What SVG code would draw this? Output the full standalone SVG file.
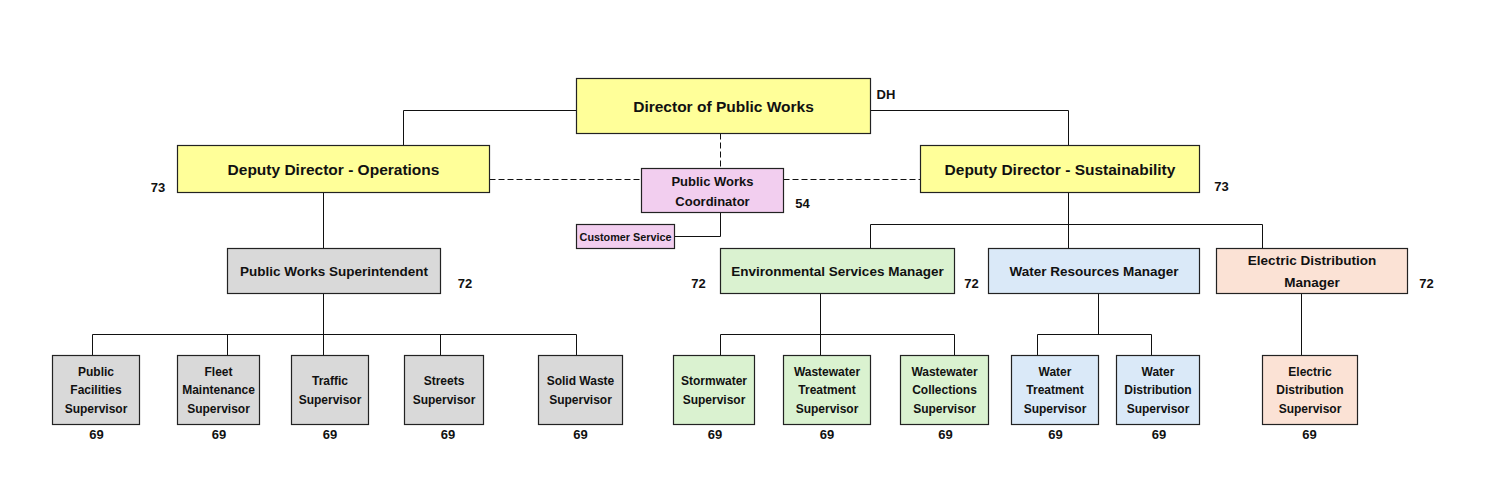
<svg xmlns="http://www.w3.org/2000/svg" width="1490" height="495" viewBox="0 0 1490 495">
<style>
text{font-family:"Liberation Sans",Arial,sans-serif;font-weight:bold;fill:#111;text-anchor:middle;dominant-baseline:central}
.box{stroke:#222;stroke-width:1.2}
.yel{fill:#FFFF99}.pink{fill:#F2CEEF}.gray{fill:#D9D9D9}.grn{fill:#DAF2D0}.blu{fill:#DAE9F8}.pch{fill:#FBE2D5}
.t1{font-size:15.5px}.t2{font-size:13.5px}.t3{font-size:12px}.t4{font-size:10.8px}.num{font-size:13px}
.ln{fill:none;stroke:#111;stroke-width:1}.ds{stroke-dasharray:6,3}
</style>
<rect width="1490" height="495" fill="#fff"/>
<g id="connectors">
<path class="ln" d="M576.5 110.5H403.5V145.5"/>
<path class="ln" d="M870.5 110.5H1068.5V145.5"/>
<path class="ln ds" d="M720.5 133.5V168.5"/>
<path class="ln ds" d="M489.5 179.5H641.5"/>
<path class="ln ds" d="M783.5 179.5H920.5"/>
<path class="ln" d="M720.5 212.5V236.5H674.5"/>
<path class="ln" d="M323.5 192.5V248.5"/>
<path class="ln" d="M323.5 293.5V355.5"/>
<path class="ln" d="M92.5 355.5V334.5H576.5V355.5M227.5 334.5V355.5M440.5 334.5V355.5"/>
<path class="ln" d="M1068.5 192.5V248.5"/>
<path class="ln" d="M870.5 248.5V224.5H1262.5V248.5"/>
<path class="ln" d="M820.5 293.5V355.5"/>
<path class="ln" d="M720.5 355.5V334.5H954.5V355.5"/>
<path class="ln" d="M1098.5 293.5V334.5"/>
<path class="ln" d="M1037.5 355.5V334.5H1151.5V355.5"/>
<path class="ln" d="M1301.5 293.5V355.5"/>
</g>
<g id="director"><rect class="box yel" x="576.5" y="78.5" width="294" height="55"/><text class="t1" x="723.5" y="106">Director of Public Works</text><text class="num" x="886" y="94">DH</text></g>
<g id="deputy-ops"><rect class="box yel" x="177.5" y="145.5" width="312" height="47"/><text class="t1" x="333.5" y="169.5">Deputy Director - Operations</text><text class="num" x="158" y="187">73</text></g>
<g id="deputy-sust"><rect class="box yel" x="920.5" y="145.5" width="279" height="47"/><text class="t1" x="1060" y="169.5">Deputy Director - Sustainability</text><text class="num" x="1221.5" y="186.5">73</text></g>
<g id="coordinator"><rect class="box pink" x="641.5" y="168.5" width="142" height="44"/><text class="t3" x="712.5" y="181.5" style="font-size:13px">Public Works</text><text class="t3" x="712.5" y="201" style="font-size:13px">Coordinator</text><text class="num" x="802.5" y="203">54</text></g>
<g id="customer-service"><rect class="box pink" x="576.5" y="224.5" width="98" height="24"/><text class="t4" x="625.5" y="236.5">Customer Service</text></g>
<g id="superintendent"><rect class="box gray" x="227.5" y="248.5" width="213" height="45"/><text class="t2" x="334" y="271">Public Works Superintendent</text><text class="num" x="465" y="283">72</text></g>
<g id="env-manager"><rect class="box grn" x="720.5" y="248.5" width="234" height="45"/><text class="t2" x="837.5" y="271">Environmental Services Manager</text><text class="num" x="698.5" y="283">72</text><text class="num" x="971.5" y="283">72</text></g>
<g id="water-manager"><rect class="box blu" x="988.5" y="248.5" width="211" height="45"/><text class="t2" x="1094" y="271">Water Resources Manager</text></g>
<g id="electric-manager"><rect class="box pch" x="1216.5" y="248.5" width="191" height="45"/><text class="t2" x="1312" y="260">Electric Distribution</text><text class="t2" x="1312" y="282">Manager</text><text class="num" x="1426.5" y="283">72</text></g>
<g id="public-facilities"><rect class="box gray" x="52.5" y="355.5" width="87" height="69"/><text class="t3" x="96" y="371.5">Public</text><text class="t3" x="96" y="390">Facilities</text><text class="t3" x="96" y="408.5">Supervisor</text><text class="num" x="96.5" y="434.5">69</text></g>
<g id="fleet"><rect class="box gray" x="177.5" y="355.5" width="82" height="69"/><text class="t3" x="218.5" y="371.5">Fleet</text><text class="t3" x="218.5" y="390">Maintenance</text><text class="t3" x="218.5" y="408.5">Supervisor</text><text class="num" x="219" y="434.5">69</text></g>
<g id="traffic"><rect class="box gray" x="291.5" y="355.5" width="77" height="69"/><text class="t3" x="330" y="380.5">Traffic</text><text class="t3" x="330" y="399.5">Supervisor</text><text class="num" x="330" y="434.5">69</text></g>
<g id="streets"><rect class="box gray" x="404.5" y="355.5" width="79" height="69"/><text class="t3" x="444" y="380.5">Streets</text><text class="t3" x="444" y="399.5">Supervisor</text><text class="num" x="448" y="434.5">69</text></g>
<g id="solid-waste"><rect class="box gray" x="538.5" y="355.5" width="84" height="69"/><text class="t3" x="580.5" y="380.5">Solid Waste</text><text class="t3" x="580.5" y="399.5">Supervisor</text><text class="num" x="580.5" y="434.5">69</text></g>
<g id="stormwater"><rect class="box grn" x="673.5" y="355.5" width="81" height="69"/><text class="t3" x="714" y="380.5">Stormwater</text><text class="t3" x="714" y="399.5">Supervisor</text><text class="num" x="715" y="434.5">69</text></g>
<g id="wastewater-treatment"><rect class="box grn" x="783.5" y="355.5" width="87" height="69"/><text class="t3" x="827" y="371.5">Wastewater</text><text class="t3" x="827" y="390">Treatment</text><text class="t3" x="827" y="408.5">Supervisor</text><text class="num" x="827" y="434.5">69</text></g>
<g id="wastewater-collections"><rect class="box grn" x="900.5" y="355.5" width="88" height="69"/><text class="t3" x="944.5" y="371.5">Wastewater</text><text class="t3" x="944.5" y="390">Collections</text><text class="t3" x="944.5" y="408.5">Supervisor</text><text class="num" x="945.5" y="434.5">69</text></g>
<g id="water-treatment"><rect class="box blu" x="1011.5" y="355.5" width="87" height="69"/><text class="t3" x="1055" y="371.5">Water</text><text class="t3" x="1055" y="390">Treatment</text><text class="t3" x="1055" y="408.5">Supervisor</text><text class="num" x="1055.5" y="434.5">69</text></g>
<g id="water-distribution"><rect class="box blu" x="1116.5" y="355.5" width="83" height="69"/><text class="t3" x="1158" y="371.5">Water</text><text class="t3" x="1158" y="390">Distribution</text><text class="t3" x="1158" y="408.5">Supervisor</text><text class="num" x="1159" y="434.5">69</text></g>
<g id="electric-distribution"><rect class="box pch" x="1262.5" y="355.5" width="95" height="69"/><text class="t3" x="1310" y="371.5">Electric</text><text class="t3" x="1310" y="390">Distribution</text><text class="t3" x="1310" y="408.5">Supervisor</text><text class="num" x="1309.5" y="434.5">69</text></g>
</svg>
